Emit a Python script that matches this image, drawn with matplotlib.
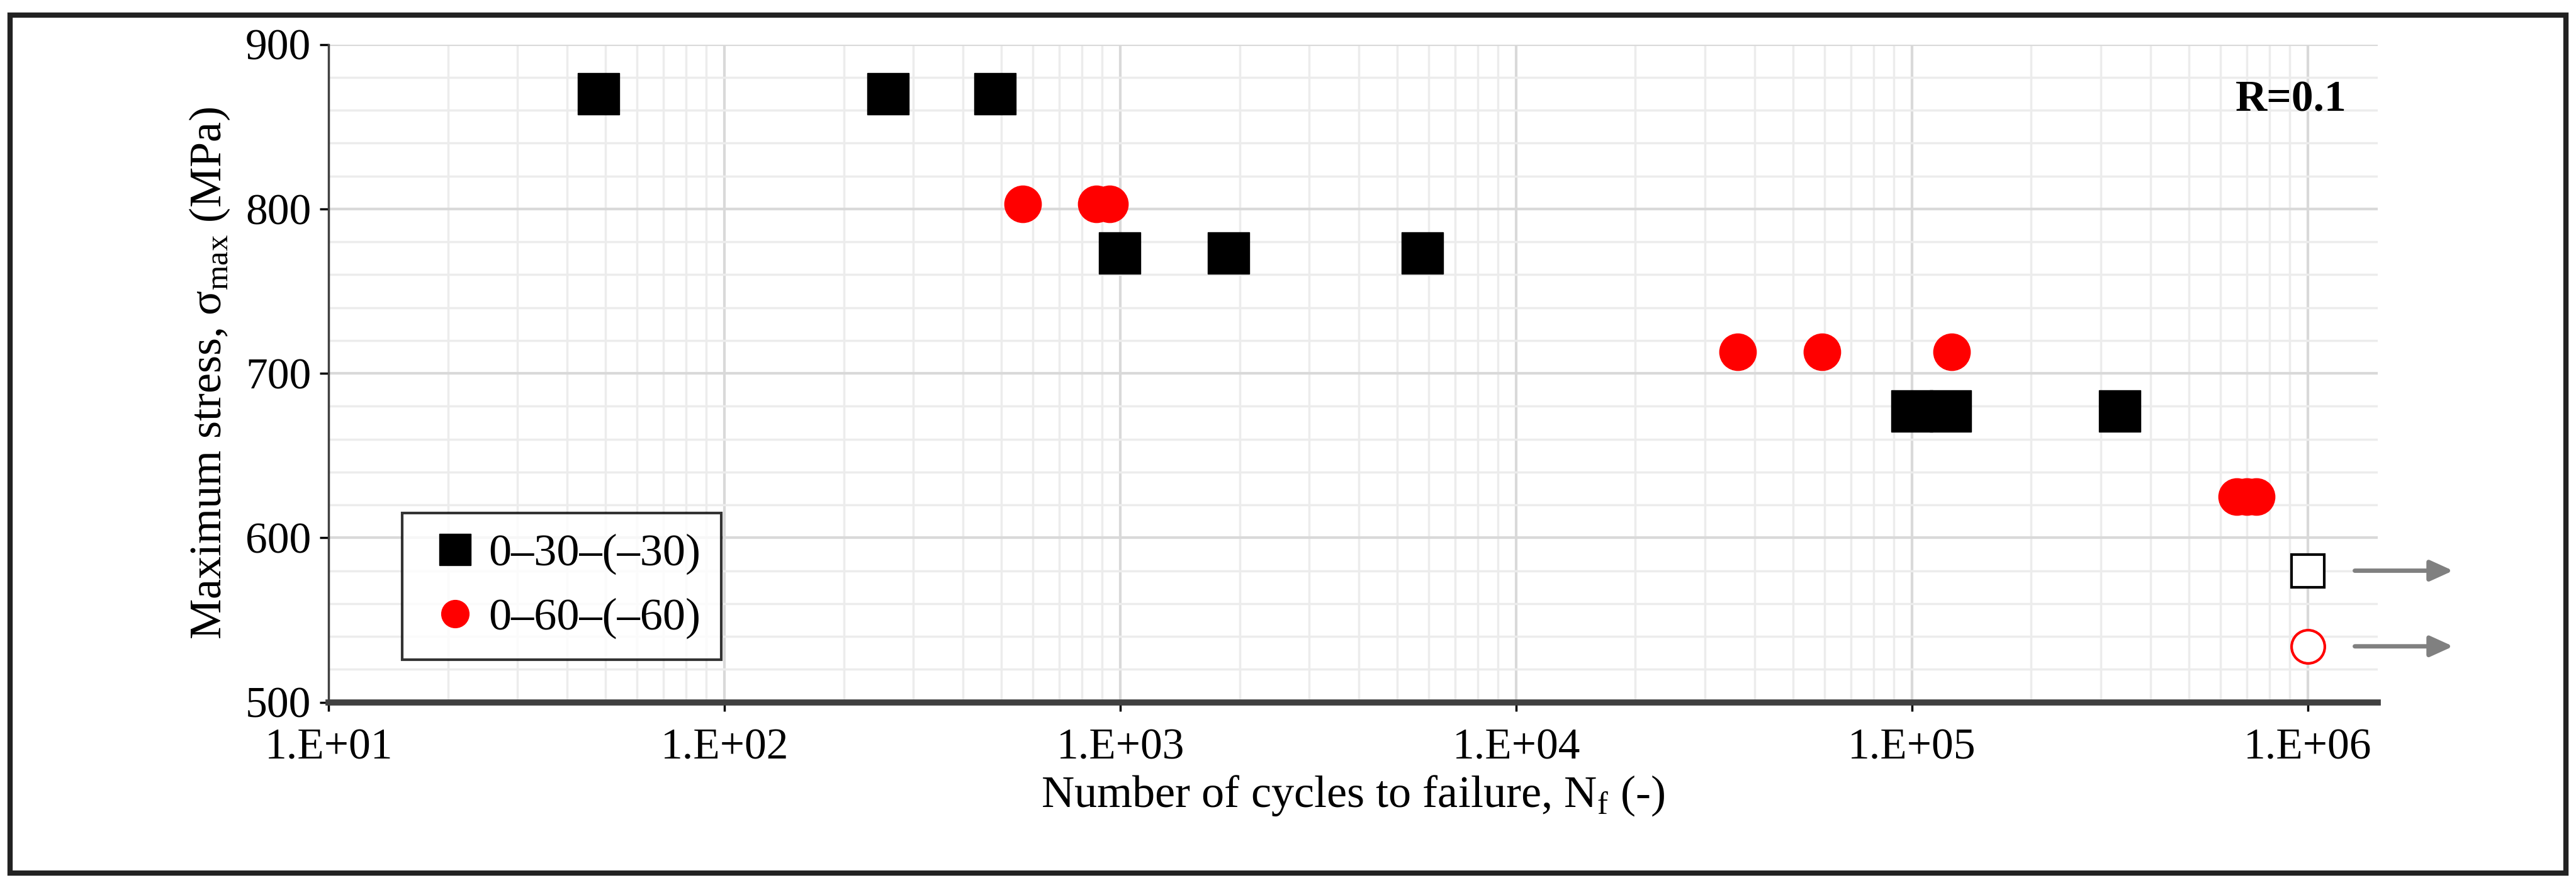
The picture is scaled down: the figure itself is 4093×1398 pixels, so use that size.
import matplotlib
matplotlib.use("Agg")
import matplotlib.pyplot as plt
from matplotlib.ticker import LogLocator, MultipleLocator
from matplotlib.patches import Rectangle

plt.rcParams['font.family'] = ['Liberation Serif', 'DejaVu Serif']

sq_N = [48, 259, 482, 995, 1875, 5790, 100000, 125000, 334000]
sq_S = [870, 870, 870, 773, 773, 773, 677, 677, 677]
ci_N = [566, 870, 940, 36300, 59200, 126000, 660000, 700000, 740000]
ci_S = [803, 803, 803, 713, 713, 713, 625, 625, 625]
run_sq = ([1e6], [580])
run_ci = ([1e6], [534])
xticks = [1e1, 1e2, 1e3, 1e4, 1e5, 1e6]
xlabels = ["1.E+01", "1.E+02", "1.E+03", "1.E+04", "1.E+05", "1.E+06"]

fig = plt.figure(figsize=(40.93, 13.98), dpi=100)
ax = fig.add_axes([0.1276, 0.202, 0.923 - 0.1276, 0.9495 - 0.202])
ax.set_xscale('log')
ax.set_xlim(1e1, 1.5e6)
ax.set_ylim(500, 900)
ax.set_xticks(xticks)
ax.set_xticklabels(xlabels)
ax.xaxis.set_minor_locator(LogLocator(base=10, subs=range(2, 10)))
ax.xaxis.set_minor_formatter(plt.NullFormatter())
ax.yaxis.set_major_locator(MultipleLocator(100))
ax.yaxis.set_minor_locator(MultipleLocator(20))
ax.grid(True, which='major', color='#d9d9d9', lw=3)
ax.grid(True, which='minor', color='#ececec', lw=2.5)
ax.set_axisbelow(True)
for s in ['top', 'right']:
    ax.spines[s].set_visible(False)
ax.spines['left'].set_color('#404040'); ax.spines['left'].set_linewidth(2.5)
ax.spines['bottom'].set_color('#404040'); ax.spines['bottom'].set_linewidth(7)
ax.tick_params(axis='both', labelsize=50, length=10, width=2.5, pad=10)
ax.tick_params(which='minor', length=0)
ax.tick_params(axis='x', pad=20)

ax.plot(sq_N, sq_S, 's', color='black', ms=48, ls='none', label='0–30–(–30)')
ax.plot(ci_N, ci_S, 'o', color='#ff0000', ms=42, ls='none', label='0–60–(–60)')
ax.plot(*run_sq, 's', mfc='white', mec='black', mew=3, ms=38, ls='none', clip_on=False)
ax.plot(*run_ci, 'o', mfc='white', mec='#ff0000', mew=3, ms=38, ls='none', clip_on=False)
for y in [run_sq[1][0], run_ci[1][0]]:
    ax.annotate('', xy=(2.35e6, y), xytext=(1.3e6, y), annotation_clip=False,
                arrowprops=dict(arrowstyle='-|>,head_length=2.2,head_width=1.0', color='#808080', lw=5))

ax.text(0.985, 0.915, 'R=0.1', transform=ax.transAxes, ha='right', va='center',
        fontsize=50, fontweight='bold')
ax.set_xlabel('Number of cycles to failure, N$_\\mathregular{f}$ (-)', fontsize=52, labelpad=6)
ax.set_ylabel('Maximum stress, σ$_\\mathregular{max}$ (MPa)', fontsize=52, labelpad=16)

leg = ax.legend(loc='lower left', bbox_to_anchor=(0.036, 0.065), fontsize=52, frameon=True,
                fancybox=False, edgecolor='black', handletextpad=0.05, borderpad=0.45,
                markerscale=0.75, labelspacing=0.5, handlelength=1.4, borderaxespad=0)
leg.get_frame().set_linewidth(3)

fig.patches.append(Rectangle((0.004, 0.008), 0.992, 0.975, transform=fig.transFigure,
                             fill=False, edgecolor='#222222', lw=6))
fig.savefig('out.png', dpi=100)
